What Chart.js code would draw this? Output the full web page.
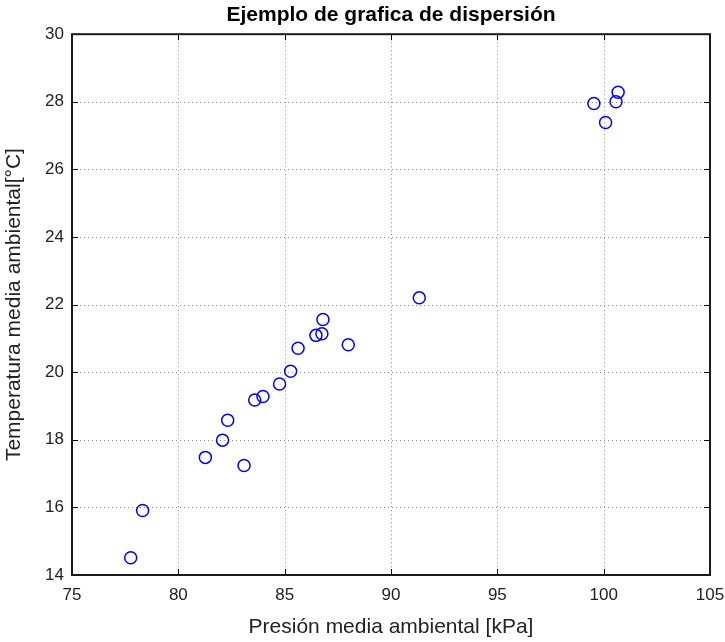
<!DOCTYPE html>
<html>
<head>
<meta charset="utf-8">
<script src="https://cdn.jsdelivr.net/npm/chart.js@4/dist/chart.umd.min.js"></script>
<style>
  html, body { margin: 0; padding: 0; background: #fff; }
  #wrap { width: 725px; height: 642px; }
</style>
</head>
<body>
<div id="wrap"><canvas id="myChart" width="725" height="642"></canvas></div>
<script>
'use strict';

// datos
var presion = [77.76, 78.32, 81.27, 82.08, 82.32, 83.09, 83.59, 83.98, 84.76, 85.28,
               85.63, 86.47, 86.75, 86.8, 87.99, 91.33, 99.54, 100.09, 100.58, 100.68];
var temperatura = [14.51, 15.91, 17.48, 17.99, 18.58, 17.24, 19.18, 19.28, 19.65, 20.03,
                   20.71, 21.09, 21.14, 21.56, 20.81, 22.2, 27.95, 27.39, 28.0, 28.28];
var xTicks = [75, 80, 85, 90, 95, 100, 105];
var yTicks = [14, 16, 18, 20, 22, 24, 26, 28, 30];

var puntos = [];
for (let i = 0; i < presion.length; i++) {
  puntos.push({ x: presion[i], y: temperatura[i] });
}

// grid punteado, marco y marcas hacia adentro (estilo matlab)
var marcoPlugin = {
  id: 'marco',
  beforeDatasetsDraw: function (chart) {
    var ctx = chart.ctx, a = chart.chartArea;
    var sx = chart.scales.x, sy = chart.scales.y;
    ctx.save();
    ctx.strokeStyle = '#8c8c8c';
    ctx.lineWidth = 1;
    ctx.setLineDash([1, 3]);
    xTicks.forEach(function (v) {
      var px = Math.round(sx.getPixelForValue(v)) + 0.5;
      ctx.beginPath(); ctx.moveTo(px, a.top); ctx.lineTo(px, a.bottom); ctx.stroke();
    });
    yTicks.forEach(function (v) {
      var py = Math.round(sy.getPixelForValue(v)) + 0.5;
      ctx.beginPath(); ctx.moveTo(a.left, py); ctx.lineTo(a.right, py); ctx.stroke();
    });
    ctx.setLineDash([]);
    ctx.strokeStyle = '#000';
    ctx.lineWidth = 1;
    xTicks.forEach(function (v) {
      var px = Math.round(sx.getPixelForValue(v)) + 0.5;
      ctx.beginPath(); ctx.moveTo(px, a.bottom); ctx.lineTo(px, a.bottom - 6); ctx.stroke();
      ctx.beginPath(); ctx.moveTo(px, a.top); ctx.lineTo(px, a.top + 6); ctx.stroke();
    });
    yTicks.forEach(function (v) {
      var py = Math.round(sy.getPixelForValue(v)) + 0.5;
      ctx.beginPath(); ctx.moveTo(a.left, py); ctx.lineTo(a.left + 6, py); ctx.stroke();
      ctx.beginPath(); ctx.moveTo(a.right, py); ctx.lineTo(a.right - 6, py); ctx.stroke();
    });
    ctx.lineWidth = 2;
    ctx.strokeStyle = '#1a1a1a';
    ctx.strokeRect(a.left, a.top, a.right - a.left, a.bottom - a.top);
    ctx.restore();
  }
};

var ctx = document.getElementById('myChart').getContext('2d');
var myChart = new Chart(ctx, {
  type: 'scatter',
  data: {
    datasets: [{
      label: 'Datos',
      data: puntos,
      pointStyle: 'circle',
      pointRadius: 6,
      pointHoverRadius: 6,
      pointBorderWidth: 1.5,
      borderColor: '#0000ff',
      backgroundColor: 'rgba(0,0,0,0)'
    }]
  },
  options: {
    responsive: false,
    animation: false,
    layout: { padding: { left: 0, right: 15, top: 0, bottom: 0 } },
    plugins: {
      legend: { display: false },
      tooltip: { enabled: false },
      title: {
        display: true,
        fullSize: false,
        text: 'Ejemplo de grafica de dispersión',
        color: '#000',
        font: { family: 'Liberation Sans, Arial, sans-serif', size: 21, weight: 'bold' },
        padding: { top: 3, bottom: 6 }
      }
    },
    scales: {
      x: {
        type: 'linear',
        min: 75,
        max: 105,
        afterBuildTicks: function (axis) {
          axis.ticks = xTicks.map(function (v) { return { value: v }; });
        },
        afterFit: function (axis) {
          axis.height = 67;
          axis.paddingLeft = 0;
          axis.paddingRight = 0;
        },
        grid: { display: false, drawTicks: false },
        border: { display: false },
        ticks: {
          color: '#222',
          padding: 10,
          font: { family: 'Liberation Sans, Arial, sans-serif', size: 17 }
        },
        title: {
          display: true,
          text: 'Presión media ambiental [kPa]',
          color: '#222',
          font: { family: 'Liberation Sans, Arial, sans-serif', size: 21 },
          padding: { top: 0, bottom: 2 }
        }
      },
      y: {
        type: 'linear',
        min: 14,
        max: 30,
        afterBuildTicks: function (axis) {
          axis.ticks = yTicks.map(function (v) { return { value: v }; });
        },
        afterFit: function (axis) {
          axis.width = 72;
          axis.paddingTop = 0;
          axis.paddingBottom = 0;
        },
        grid: { display: false, drawTicks: false },
        border: { display: false },
        ticks: {
          color: '#222',
          padding: 8,
          font: { family: 'Liberation Sans, Arial, sans-serif', size: 17 }
        },
        title: {
          display: true,
          text: 'Temperatura media ambiental[°C]',
          color: '#222',
          font: { family: 'Liberation Sans, Arial, sans-serif', size: 21 },
          padding: { top: 2, bottom: 0 }
        }
      }
    }
  },
  plugins: [marcoPlugin]
});
</script>
</body>
</html>
